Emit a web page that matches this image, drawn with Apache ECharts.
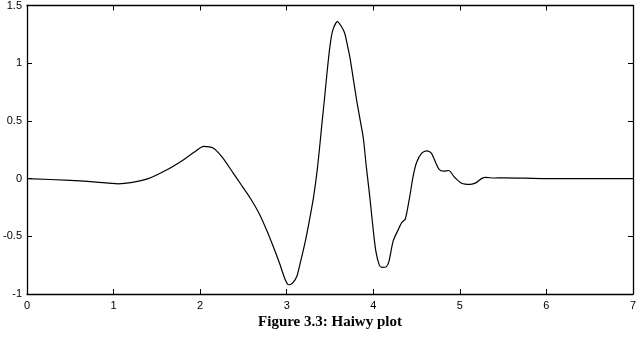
<!DOCTYPE html>
<html>
<head>
<meta charset="utf-8">
<script src="https://cdn.jsdelivr.net/npm/echarts@6/dist/echarts.min.js"></script>
<style>html,body{margin:0;padding:0;background:#fff;}#c{width:640px;height:340px;}</style>
</head>
<body>
<div id="c"></div>
<script>
const titleText = "Figure 3.3: Haiwy plot";
const xTicks = [0, 1, 2, 3, 4, 5, 6, 7];
const yTicks = [-1, -0.5, 0, 0.5, 1, 1.5];
const xs = [0, 0.5, 0.8, 1.05, 1.2, 1.4, 1.6, 1.8, 1.95, 2.04, 2.15, 2.25, 2.38, 2.48, 2.58, 2.68, 2.77, 2.85, 2.92, 2.98, 3.02, 3.06, 3.115, 3.16, 3.21, 3.26, 3.31, 3.35, 3.38, 3.41, 3.44, 3.47, 3.5, 3.53, 3.585, 3.63, 3.67, 3.7, 3.73, 3.77, 3.81, 3.85, 3.885, 3.92, 3.96, 4.0, 4.03, 4.07, 4.1, 4.15, 4.18, 4.23, 4.29, 4.33, 4.37, 4.42, 4.46, 4.5, 4.56, 4.62, 4.67, 4.72, 4.76, 4.81, 4.87, 4.94, 5.02, 5.12, 5.19, 5.25, 5.3, 5.4, 5.5, 6.0, 7.0];
const ys = [0, -0.015, -0.03, -0.045, -0.035, 0.0, 0.07, 0.16, 0.24, 0.28, 0.265, 0.19, 0.05, -0.06, -0.17, -0.30, -0.45, -0.60, -0.74, -0.87, -0.92, -0.91, -0.85, -0.72, -0.56, -0.37, -0.16, 0.06, 0.27, 0.50, 0.72, 0.95, 1.15, 1.28, 1.36, 1.32, 1.26, 1.16, 1.05, 0.86, 0.67, 0.50, 0.35, 0.10, -0.16, -0.45, -0.63, -0.75, -0.77, -0.765, -0.72, -0.54, -0.44, -0.38, -0.35, -0.16, 0.02, 0.14, 0.22, 0.24, 0.22, 0.14, 0.08, 0.065, 0.07, 0.01, -0.04, -0.05, -0.035, 0.0, 0.01, 0.005, 0.007, 0.0, 0.0];

const data = xs.map((x, i) => [x, ys[i]]);
const xMin = xTicks[0], xMax = xTicks[xTicks.length - 1];
const yMin = yTicks[0], yMax = yTicks[yTicks.length - 1];
const lbl = {color: '#000', fontFamily: 'Liberation Sans', fontSize: 11};
const line = {show: true, onZero: false, lineStyle: {color: '#000', width: 1.3}};
const tick = {show: true, inside: true, length: 5, lineStyle: {color: '#000', width: 1}};

const chart = echarts.init(document.getElementById('c'), null, {renderer: 'canvas'});
chart.setOption({
  animation: false,
  backgroundColor: '#fff',
  title: {
    text: titleText, left: 325, top: 310, textAlign: 'center',
    textStyle: {fontFamily: 'Liberation Serif', fontWeight: 'bold', fontSize: 15, color: '#000'}
  },
  grid: {left: 27, right: 7, top: 3, bottom: 46, containLabel: false},
  xAxis: [
    {type: 'value', position: 'bottom', min: xMin, max: xMax, interval: 1,
     axisLine: line, axisTick: tick, splitLine: {show: false},
     axisLabel: Object.assign({margin: 6}, lbl)},
    {type: 'value', position: 'top', min: xMin, max: xMax, interval: 1,
     axisLine: line, axisTick: tick, splitLine: {show: false}, axisLabel: {show: false}}
  ],
  yAxis: [
    {type: 'value', position: 'left', min: yMin, max: yMax, interval: 0.5,
     axisLine: line, axisTick: tick, splitLine: {show: false},
     axisLabel: Object.assign({margin: 5}, lbl)},
    {type: 'value', position: 'right', min: yMin, max: yMax, interval: 0.5,
     axisLine: line, axisTick: tick, splitLine: {show: false}, axisLabel: {show: false}}
  ],
  series: [{
    type: 'line', data: data, xAxisIndex: 0, yAxisIndex: 0,
    showSymbol: false, smooth: 0.25,
    lineStyle: {color: '#000', width: 1.2}
  }]
});
</script>
</body>
</html>
